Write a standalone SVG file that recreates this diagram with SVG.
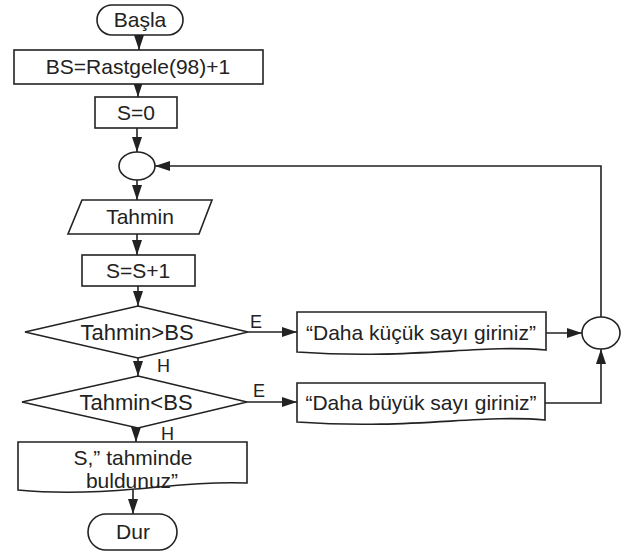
<svg xmlns="http://www.w3.org/2000/svg" width="636" height="552" viewBox="0 0 636 552">
<style>
.s{fill:#fff;stroke:#222;stroke-width:1.6}
.t{font-family:"Liberation Sans",Arial,sans-serif;font-size:21px;fill:#222;text-anchor:middle}
.d{font-size:22px}
.l{font-family:"Liberation Sans",Arial,sans-serif;font-size:18px;fill:#222}
.c{fill:none;stroke:#222;stroke-width:1.6}
</style>
<defs>
<marker id="a" markerUnits="userSpaceOnUse" markerWidth="16" markerHeight="12" refX="15" refY="6" orient="auto">
<path d="M0,1 L15,6 L0,11 Z" fill="#222"/>
</marker>
</defs>
<rect width="636" height="552" fill="#fff"/>
<g id="connectors">
<line class="c" x1="139" y1="35" x2="139" y2="50" marker-end="url(#a)"/>
<line class="c" x1="138" y1="84" x2="138" y2="97" marker-end="url(#a)"/>
<line class="c" x1="137" y1="128" x2="137" y2="152" marker-end="url(#a)"/>
<line class="c" x1="137" y1="180" x2="137" y2="200" marker-end="url(#a)"/>
<line class="c" x1="137" y1="234" x2="137" y2="255" marker-end="url(#a)"/>
<line class="c" x1="138" y1="286" x2="138" y2="306" marker-end="url(#a)"/>
<line class="c" x1="138" y1="358" x2="138" y2="376" marker-end="url(#a)"/>
<line class="c" x1="136" y1="428" x2="136" y2="442" marker-end="url(#a)"/>
<line class="c" x1="133" y1="490" x2="133" y2="514" marker-end="url(#a)"/>
<line class="c" x1="248" y1="332" x2="297" y2="332" marker-end="url(#a)"/>
<line class="c" x1="247" y1="402" x2="297" y2="402" marker-end="url(#a)"/>
<line class="c" x1="546" y1="333" x2="582" y2="333" marker-end="url(#a)"/>
<polyline class="c" points="545,403 601,403 601,349" marker-end="url(#a)"/>
<polyline class="c" points="601,317 601,166 155,166" marker-end="url(#a)"/>
<text class="l" x="250" y="328">E</text>
<text class="l" x="157" y="372">H</text>
<text class="l" x="253" y="397">E</text>
<text class="l" x="161" y="440">H</text>
</g>
<g id="basla">
<rect class="s" x="97" y="5" width="86" height="30" rx="15"/>
<text class="t" x="140" y="27">Başla</text>
</g>
<g id="bs">
<rect class="s" x="14" y="50" width="249" height="34"/>
<text class="t" x="138" y="74">BS=Rastgele(98)+1</text>
</g>
<g id="s0">
<rect class="s" x="95" y="97" width="82" height="31"/>
<text class="t" x="136" y="120">S=0</text>
</g>
<g id="join1">
<ellipse class="s" cx="137" cy="166" rx="18" ry="14"/>
</g>
<g id="tahmin">
<polygon class="s" points="82,200 212,200 199,234 68,234"/>
<text class="t" x="140" y="224">Tahmin</text>
</g>
<g id="inc">
<rect class="s" x="82" y="255" width="113" height="31"/>
<text class="t" x="138" y="278">S=S+1</text>
</g>
<g id="dec1">
<polygon class="s" points="138,306 248,332 138,358 25,332"/>
<text class="t d" x="137" y="340">Tahmin&gt;BS</text>
</g>
<g id="kucuk">
<path class="s" d="M297,312 H546 V350 C480,344 410,360 297,352 Z"/>
<text class="t" x="421" y="340">“Daha küçük sayı giriniz”</text>
</g>
<g id="join2">
<ellipse class="s" cx="601" cy="333" rx="19" ry="16"/>
</g>
<g id="dec2">
<polygon class="s" points="138,376 247,402 138,428 22,402"/>
<text class="t d" x="136" y="410">Tahmin&lt;BS</text>
</g>
<g id="buyuk">
<path class="s" d="M297,383 H545 V420 C480,414 410,430 297,422 Z"/>
<text class="t" x="421" y="410">“Daha büyük sayı giriniz”</text>
</g>
<g id="out">
<path class="s" d="M18,442 H247 V483 C200,481 165,487 135,489 C90,493 50,493 18,490 Z"/>
<text class="t" x="133" y="465">S,” tahminde</text>
<text class="t" x="132" y="488">buldunuz”</text>
</g>
<g id="dur">
<rect class="s" x="88" y="514" width="89" height="36" rx="18"/>
<text class="t" x="133" y="539">Dur</text>
</g>
</svg>
